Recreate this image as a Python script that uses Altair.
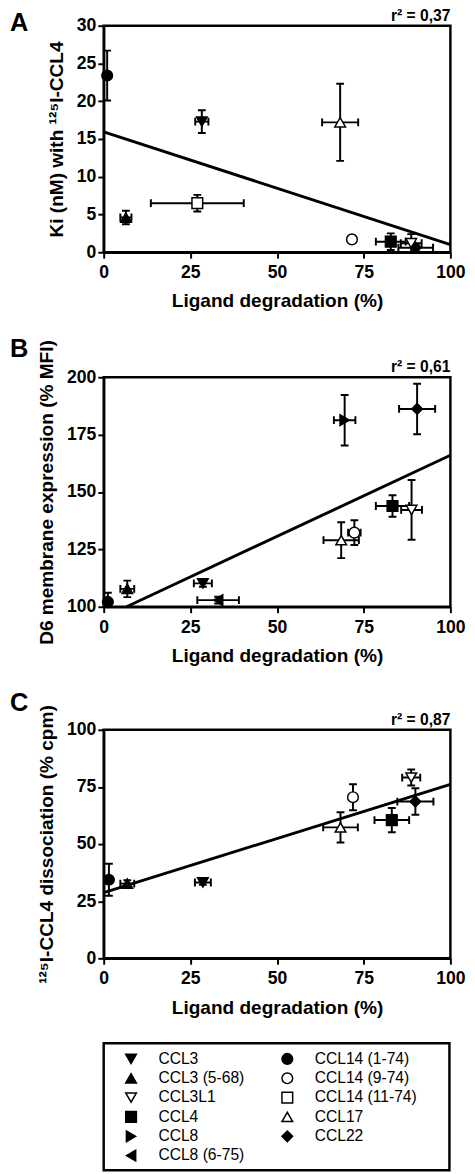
import altair as alt
import pandas as pd

FONT = "Liberation Sans"

LIGANDS = ["CCL3", "CCL3 (5-68)", "CCL3L1", "CCL4", "CCL8", "CCL8 (6-75)",
           "CCL14 (1-74)", "CCL14 (9-74)", "CCL14 (11-74)", "CCL17", "CCL22"]
SHAPES = ["triangle-down", "triangle-up", "triangle-down", "square", "triangle-right",
          "triangle-left", "circle", "circle", "square", "triangle-up", "diamond"]
FILLS = ["black", "black", "white", "black", "black", "black",
         "black", "white", "white", "white", "black"]
SIZES = [120, 120, 120, 100, 120, 120, 110, 110, 100, 120, 170]

X_TICKS = [0, 25, 50, 75, 100]
X_TITLE = "Ligand degradation (%)"

a_lig = ["CCL14 (1-74)", "CCL3", "CCL3 (5-68)", "CCL14 (11-74)", "CCL17",
         "CCL14 (9-74)", "CCL4", "CCL3L1", "CCL22"]
a_x = [1.0, 28.3, 6.4, 27.0, 68.2, 71.6, 82.8, 88.7, 90.0]
a_xerr = [0.5, 1.9, 1.6, 13.4, 5.2, 0.0, 4.3, 3.0, 5.0]
a_y = [23.4, 17.3, 4.6, 6.5, 17.2, 1.7, 1.4, 1.2, 0.6]
a_yerr = [3.3, 1.5, 0.9, 1.1, 5.1, 0.0, 1.1, 1.2, 0.5]
a_fit_x = [0, 100]
a_fit_y = [15.95, 1.0]
a_yticks = [0, 5, 10, 15, 20, 25, 30]

b_lig = ["CCL14 (1-74)", "CCL3 (5-68)", "CCL3", "CCL8 (6-75)", "CCL17",
         "CCL14 (9-74)", "CCL4", "CCL3L1", "CCL8", "CCL22"]
b_x = [1.2, 6.8, 28.6, 33.0, 68.5, 72.3, 83.3, 88.8, 69.5, 90.4]
b_xerr = [0.5, 2.0, 2.6, 6.0, 5.1, 1.8, 4.8, 3.0, 3.1, 5.2]
b_y = [102.1, 107.8, 110.2, 102.9, 129.0, 132.3, 143.9, 142.2, 181.3, 186.2]
b_yerr = [4.0, 3.6, 1.5, 1.5, 7.8, 5.4, 4.7, 13.0, 11.0, 11.0]
b_fit_x = [6.6, 100]
b_fit_y = [100, 166.0]
b_yticks = [100, 125, 150, 175, 200]

c_lig = ["CCL14 (1-74)", "CCL3 (5-68)", "CCL3", "CCL17", "CCL14 (9-74)",
         "CCL4", "CCL3L1", "CCL22"]
c_x = [1.5, 6.8, 28.6, 68.3, 71.9, 83.1, 88.7, 89.9]
c_xerr = [0.5, 2.0, 2.3, 5.0, 0.8, 5.0, 2.6, 5.2]
c_y = [34.4, 32.7, 33.2, 57.3, 70.5, 60.5, 79.1, 68.6]
c_yerr = [7.0, 1.5, 1.0, 6.6, 5.7, 5.3, 3.5, 5.8]
c_fit_x = [0, 100]
c_fit_y = [28.8, 76.1]
c_yticks = [0, 25, 50, 75, 100]

leg_col = [0, 0, 0, 0, 0, 0, 1, 1, 1, 1, 1]
leg_row = [0, 1, 2, 3, 4, 5, 0, 1, 2, 3, 4]

shape_enc = alt.Shape("lig:N", scale=alt.Scale(domain=LIGANDS, range=SHAPES), legend=None)
fill_enc = alt.Fill("lig:N", scale=alt.Scale(domain=LIGANDS, range=FILLS), legend=None)
size_enc = alt.Size("lig:N", scale=alt.Scale(domain=LIGANDS, range=SIZES), legend=None)


def panel(lig, x, xe, y, ye, fx, fy, ydom, yticks, ytitle, letter, letter_y, r2,
          height, xtitle_pad=11):
    df = pd.DataFrame({"lig": lig, "x": x, "xe": xe, "y": y, "ye": ye})
    df["xlo"] = df["x"] - df["xe"]
    df["xhi"] = df["x"] + df["xe"]
    df["ylo"] = df["y"] - df["ye"]
    df["yhi"] = df["y"] + df["ye"]
    xs = alt.Scale(domain=[0, 100], nice=False, zero=False)
    ys = alt.Scale(domain=ydom, nice=False, zero=False)
    xax = alt.Axis(values=X_TICKS, title=X_TITLE, labelPadding=6, titlePadding=xtitle_pad)
    yax = alt.Axis(values=yticks, title=ytitle, labelPadding=2, titlePadding=10)

    def X(f):
        return alt.X(f, type="quantitative", scale=xs, axis=xax)

    def Y(f):
        return alt.Y(f, type="quantitative", scale=ys, axis=yax)

    base = alt.Chart(df)
    fit = alt.Chart(pd.DataFrame({"x": fx, "y": fy})).mark_line(
        color="black", strokeWidth=3).encode(x=X("x"), y=Y("y"))
    hbar = base.mark_rule(color="black", strokeWidth=2, clip=True).encode(
        x=X("xlo"), x2=alt.X2("xhi"), y=Y("y"))
    vbar = base.mark_rule(color="black", strokeWidth=2, clip=True).encode(
        x=X("x"), y=Y("ylo"), y2=alt.Y2("yhi"))
    hb = base.transform_filter("datum.xe > 0")
    vb = base.transform_filter("datum.ye > 0")
    capL = hb.mark_tick(orient="vertical", size=8, thickness=2, color="black",
                        opacity=1, clip=True).encode(x=X("xlo"), y=Y("y"))
    capR = hb.mark_tick(orient="vertical", size=8, thickness=2, color="black",
                        opacity=1, clip=True).encode(x=X("xhi"), y=Y("y"))
    capB = vb.mark_tick(orient="horizontal", size=8, thickness=2, color="black",
                        opacity=1, clip=True).encode(x=X("x"), y=Y("ylo"))
    capT = vb.mark_tick(orient="horizontal", size=8, thickness=2, color="black",
                        opacity=1, clip=True).encode(x=X("x"), y=Y("yhi"))
    pts = base.mark_point(filled=True, stroke="black", strokeWidth=1.5,
                          opacity=1, fillOpacity=1).encode(
        x=X("x"), y=Y("y"), shape=shape_enc, fill=fill_enc, size=size_enc)
    let = alt.Chart(pd.DataFrame({"t": [letter]})).mark_text(
        align="left", baseline="top", fontSize=26, fontWeight="bold", font=FONT,
        color="black").encode(text="t:N", x=alt.value(-96), y=alt.value(letter_y))
    r2t = alt.Chart(pd.DataFrame({"t": [r2]})).mark_text(
        align="right", baseline="alphabetic", fontSize=16, fontWeight="bold", font=FONT,
        color="black").encode(text="t:N", x=alt.value(355), y=alt.value(-5))
    layers = [fit, hbar, vbar, capL, capR, capB, capT, pts, let, r2t]
    return alt.layer(*layers).properties(width=355, height=height)


pA = panel(a_lig, a_x, a_xerr, a_y, a_yerr, a_fit_x, a_fit_y, [0, 30], a_yticks,
           "Ki (nM) with \u00b9\u00b2\u2075I-CCL4", "A", -16, "r\u00b2 = 0,37", 232)
pB = panel(b_lig, b_x, b_xerr, b_y, b_yerr, b_fit_x, b_fit_y, [100, 200], b_yticks,
           "D6 membrane expression (% MFI)", "B", -42, "r\u00b2 = 0,61", 235)
pC = panel(c_lig, c_x, c_xerr, c_y, c_yerr, c_fit_x, c_fit_y, [0, 100], c_yticks,
           "\u00b9\u00b2\u2075I-CCL4 dissociation (% cpm)", "C", -40, "r\u00b2 = 0,87", 234,
           xtitle_pad=12)

leg_df = pd.DataFrame({"lig": LIGANDS, "col": leg_col, "row": leg_row})
lx = alt.Scale(domain=[0, 1], range=[28, 188])
ly = alt.Scale(domain=[0, 5], range=[16, 115])
leg_sym = alt.Chart(leg_df).mark_point(filled=True, stroke="black",
                                       strokeWidth=1.5, opacity=1, fillOpacity=1).encode(
    x=alt.X("col:Q", scale=lx, axis=None), y=alt.Y("row:Q", scale=ly, axis=None),
    shape=shape_enc, fill=fill_enc, size=size_enc)
leg_txt = alt.Chart(leg_df).mark_text(align="left", baseline="middle", dx=28,
                                      fontSize=16, font=FONT, color="black").encode(
    x=alt.X("col:Q", scale=lx, axis=None), y=alt.Y("row:Q", scale=ly, axis=None),
    text="lig:N")
legend = alt.layer(leg_sym, leg_txt).properties(width=354, height=130)

chart = alt.vconcat(
    pA, pB, pC, legend, spacing=23,
    padding={"top": -16, "left": 0, "right": 0, "bottom": 0}
).configure_view(
    stroke="black", strokeWidth=2.5
).configure_axis(
    domainColor="black", domainWidth=2.5, tickColor="black", tickWidth=2, tickSize=6,
    labelFont=FONT, labelFontSize=18, labelFontWeight="bold", labelColor="black",
    titleFont=FONT, titleFontSize=19.5, titleFontWeight="bold", titleColor="black",
    grid=False, labelFlush=False
)

chart.save("out.html", embed_options={"renderer": "svg", "actions": False})
